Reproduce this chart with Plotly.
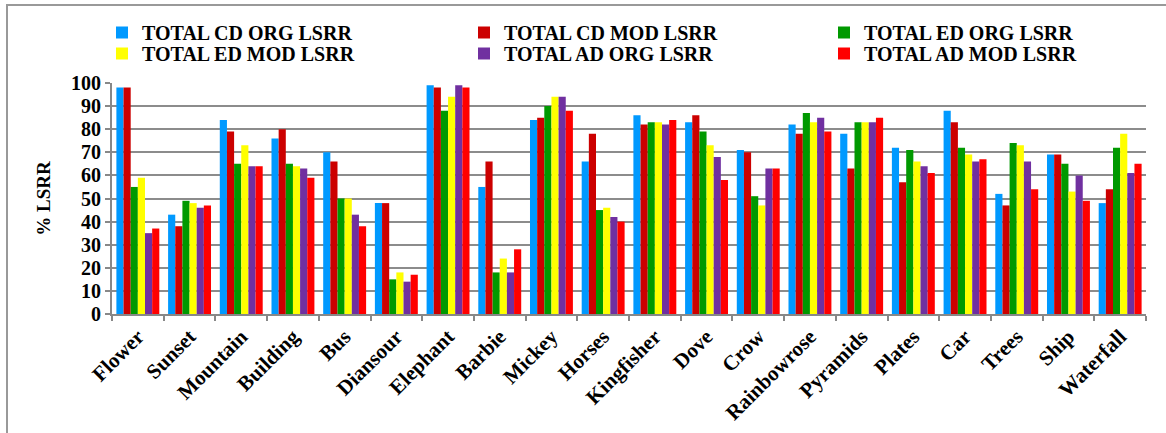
import plotly.graph_objects as go

categories = ["Flower", "Sunset", "Mountain", "Building", "Bus", "Diansour", "Elephant",
              "Barbie", "Mickey", "Horses", "Kingfisher", "Dove", "Crow", "Rainbowrose",
              "Pyramids", "Plates", "Car", "Trees", "Ship", "Waterfall"]

cd_org = [98, 43, 84, 76, 70, 48, 99, 55, 84, 66, 86, 83, 71, 82, 78, 72, 88, 52, 69, 48]
cd_mod = [98, 38, 79, 80, 66, 48, 98, 66, 85, 78, 82, 86, 70, 78, 63, 57, 83, 47, 69, 54]
ed_org = [55, 49, 65, 65, 50, 15, 88, 18, 90, 45, 83, 79, 51, 87, 83, 71, 72, 74, 65, 72]
ed_mod = [59, 48, 73, 64, 50, 18, 94, 24, 94, 46, 83, 73, 47, 83, 83, 66, 69, 73, 53, 78]
ad_org = [35, 46, 64, 63, 43, 14, 99, 18, 94, 42, 82, 68, 63, 85, 83, 64, 66, 66, 60, 61]
ad_mod = [37, 47, 64, 59, 38, 17, 98, 28, 88, 40, 84, 58, 63, 79, 85, 61, 67, 54, 49, 65]

series_names = ["TOTAL CD ORG LSRR", "TOTAL CD MOD LSRR", "TOTAL ED ORG LSRR",
                "TOTAL ED MOD LSRR", "TOTAL AD ORG LSRR", "TOTAL AD MOD LSRR"]
series_values = [cd_org, cd_mod, ed_org, ed_mod, ad_org, ad_mod]
colors = ["#0099FF", "#CC0000", "#009900", "#FFFF00", "#7030A0", "#FF0000"]
legend_ids = ["legend2", "legend3", "legend4", "legend5", "legend6", "legend7"]

FONT = "Liberation Serif"
W, H = 1166, 433
L, R, T, B = 112, 20, 83, 119
PW, PH = W - L - R, H - T - B

fig = go.Figure()
for name, vals, col, lid in zip(series_names, series_values, colors, legend_ids):
    fig.add_trace(go.Bar(x=categories, y=vals, name=name, legend=lid,
                         marker=dict(color=col, line=dict(width=0))))


def leg(px_x, px_y):
    return dict(orientation="v", x=(px_x - L) / PW, y=(H - B - px_y) / PH,
                xanchor="left", yanchor="top", tracegroupgap=0,
                font=dict(family=FONT, size=20, color="black", weight="bold"),
                itemwidth=30, bgcolor="rgba(0,0,0,0)", borderwidth=0)


col_x = [102, 464, 824]
row_y = [13, 34]

fig.update_layout(
    width=W, height=H,
    margin=dict(l=L, r=R, t=T, b=B, autoexpand=False),
    paper_bgcolor="white", plot_bgcolor="white",
    barmode="group", bargap=0.17, bargroupgap=0,
    font=dict(family=FONT, color="black"),
    legend2=leg(col_x[0], row_y[0]),
    legend3=leg(col_x[1], row_y[0]),
    legend4=leg(col_x[2], row_y[0]),
    legend5=leg(col_x[0], row_y[1]),
    legend6=leg(col_x[1], row_y[1]),
    legend7=leg(col_x[2], row_y[1]),
    xaxis=dict(tickangle=-45, tickfont=dict(family=FONT, size=21, weight="bold"),
               showline=True, linecolor="#888888", linewidth=2,
               ticks="outside", ticklen=5, tickcolor="#888888", tickwidth=2,
               tickson="boundaries", showgrid=False, automargin=False),
    yaxis=dict(range=[0, 100], dtick=10, tickfont=dict(family=FONT, size=20, weight="bold"),
               showgrid=True, gridcolor="#8c8c8c", gridwidth=2,
               showline=True, linecolor="#888888", linewidth=2,
               ticks="outside", ticklen=5, tickcolor="#888888", tickwidth=2,
               zeroline=False, automargin=False,
               title=dict(text="% LSRR", font=dict(family=FONT, size=19, weight="bold"),
                          standoff=15)),
    shapes=[dict(type="rect", xref="paper", yref="paper",
                 x0=(7 - L) / PW, x1=(1180 - L) / PW,
                 y0=(H - B - 450) / PH, y1=(H - B - 5) / PH,
                 line=dict(color="#999999", width=2), fillcolor="rgba(0,0,0,0)",
                 layer="below")],
)

fig.write_html("out.html", config={"displayModeBar": False},
               post_script="document.body.style.margin='0';document.body.style.overflow='hidden';")
